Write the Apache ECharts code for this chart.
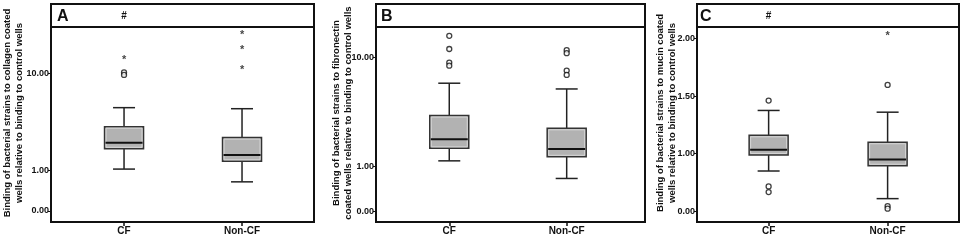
<!DOCTYPE html>
<html>
<head>
<meta charset="utf-8">
<script src="https://cdn.jsdelivr.net/npm/echarts@6/dist/echarts.min.js"></script>
<style>
html, body { margin: 0; padding: 0; background: #fff; }
#chart { width: 964px; height: 241px; }
</style>
</head>
<body>
<div id="chart"></div>
<script>
const groups = ['CF', 'Non-CF'];

// A: collagen (log axis). each box = [low whisker, Q1, median, Q3, high whisker]
const collagenBoxes = [
	[1.03, 1.67, 1.93, 2.83, 4.45],
	[0.76, 1.24, 1.44, 2.18, 4.34]
];
const collagenCircles = [[10.3, 9.7], []];
const collagenStars = [[15.0], [27.2, 19.0, 11.8]];
const collagenTicks = [0.38, 1, 10];
const collagenTickLabels = ['0.00', '1.00', '10.00'];

// B: fibronectin (log axis)
const fibronectinBoxes = [
	[1.13, 1.47, 1.78, 2.93, 5.79],
	[0.78, 1.23, 1.45, 2.24, 5.13]
];
const fibronectinCircles = [[15.7, 11.9, 8.93, 8.38], [11.6, 10.9, 7.55, 6.89]];
const fibronectinStars = [[], []];
const fibronectinTicks = [0.39, 1, 10];
const fibronectinTickLabels = ['0.00', '1.00', '10.00'];

// C: mucin (linear axis)
const mucinBoxes = [
	[0.85, 0.99, 1.035, 1.16, 1.376],
	[0.61, 0.896, 0.951, 1.10, 1.361]
];
const mucinCircles = [[1.462, 0.716, 0.667], [1.598, 0.545, 0.523]];
const mucinStars = [[], [2.049]];
const mucinTicks = [0.5, 1, 1.5, 2];
const mucinTickLabels = ['0.00', '1.00', '1.50', '2.00'];

const FONT = 'Liberation Sans, Arial, sans-serif';
const INK = '#111';
const HEAD_TOP = 4, PLOT_TOP = 27, PLOT_BOTTOM = 222;

const panels = [
	{
		letter: 'A', hash: true, letterX: 57,
		title: 'Binding of bacterial strains to collagen coated\nwells relative to binding to control wells', titleX: 13.5,
		boxes: collagenBoxes, circles: collagenCircles, stars: collagenStars,
		ticks: collagenTicks, tickLabels: collagenTickLabels, log: true,
		left: 51, right: 314, xRange: [0.381, 2.61], yRange: [0.292, 30.4]
	},
	{
		letter: 'B', hash: false, letterX: 381,
		title: 'Binding of bacterial strains to fibronectin\ncoated wells relative to binding to control wells', titleX: 342,
		boxes: fibronectinBoxes, circles: fibronectinCircles, stars: fibronectinStars,
		ticks: fibronectinTicks, tickLabels: fibronectinTickLabels, log: true,
		left: 376, right: 645, xRange: [0.376, 2.667], yRange: [0.312, 18.9]
	},
	{
		letter: 'C', hash: true, letterX: 700,
		title: 'Binding of bacterial strains to mucin coated\nwells relative to binding to control wells', titleX: 666,
		boxes: mucinBoxes, circles: mucinCircles, stars: mucinStars,
		ticks: mucinTicks, tickLabels: mucinTickLabels, log: false,
		left: 697, right: 959, xRange: [0.398, 2.60], yRange: [0.407, 2.101]
	}
];

// per-group value lists -> [groupPosition, value]
function toPoints(lists) {
	const pts = [];
	lists.forEach((vals, i) => vals.forEach(v => pts.push([i + 1, v])));
	return pts;
}

function renderBox(params, api) {
	const x = api.value(0);
	const pt = k => api.coord([x, api.value(k)]);
	const low = pt(1), q1 = pt(2), med = pt(3), q3 = pt(4), high = pt(5);
	const cx = low[0];
	const bw = 39, cw = 22;
	const line = (x1, y1, x2, y2, w, c) => ({
		type: 'line', shape: { x1, y1, x2, y2 },
		style: { stroke: c || '#222', lineWidth: w || 1.5 }
	});
	return {
		type: 'group',
		children: [
			line(cx, high[1], cx, q3[1]),
			line(cx, q1[1], cx, low[1]),
			line(cx - cw / 2, high[1], cx + cw / 2, high[1]),
			line(cx - cw / 2, low[1], cx + cw / 2, low[1]),
			{
				type: 'rect',
				shape: { x: cx - bw / 2, y: q3[1], width: bw, height: q1[1] - q3[1] },
				style: { fill: '#b2b2b2', stroke: '#333', lineWidth: 1.5 }
			},
			{
				type: 'rect',
				shape: { x: cx - bw / 2 + 1.5, y: q3[1] + 1.5, width: bw - 3, height: q1[1] - q3[1] - 3 },
				style: { fill: 'none', stroke: '#d6d6d6', lineWidth: 1 }
			},
			line(cx - bw / 2 + 1, med[1], cx + bw / 2 - 1, med[1], 2, '#111')
		]
	};
}

const option = {
	animation: false,
	backgroundColor: '#fff',
	grid: [], xAxis: [], yAxis: [], series: [], graphic: []
};

panels.forEach((p, i) => {
	option.grid.push({
		left: p.left, top: PLOT_TOP, width: p.right - p.left, height: PLOT_BOTTOM - PLOT_TOP,
		show: true, borderColor: INK, borderWidth: 2
	});
	option.xAxis.push({
		gridIndex: i, type: 'value', min: p.xRange[0], max: p.xRange[1],
		splitLine: { show: false }, axisLine: { show: false },
		axisTick: { show: true, customValues: [1, 2], length: 4, lineStyle: { color: INK, width: 1.5 } },
		axisLabel: {
			customValues: [1, 2], formatter: v => groups[Math.round(v) - 1],
			fontFamily: FONT, fontWeight: 'bold', fontSize: 10, color: INK, margin: 4
		}
	});
	option.yAxis.push({
		gridIndex: i, type: p.log ? 'log' : 'value', logBase: 10,
		min: p.yRange[0], max: p.yRange[1],
		splitLine: { show: false }, axisLine: { show: false },
		axisTick: { show: true, customValues: p.ticks, length: 3, lineStyle: { color: INK, width: 1 } },
		axisLabel: {
			customValues: p.ticks,
			formatter: v => {
				let best = 0;
				p.ticks.forEach((t, k) => { if (Math.abs(t - v) < Math.abs(p.ticks[best] - v)) best = k; });
				return p.tickLabels[best];
			},
			fontFamily: FONT, fontWeight: 'bold', fontSize: 9, color: INK, margin: 2
		}
	});
	option.series.push({
		type: 'custom', xAxisIndex: i, yAxisIndex: i,
		renderItem: renderBox,
		encode: { x: 0, y: [1, 2, 3, 4, 5] },
		data: p.boxes.map((b, k) => [k + 1].concat(b))
	});
	option.series.push({
		type: 'scatter', xAxisIndex: i, yAxisIndex: i,
		symbol: 'circle', symbolSize: 5,
		itemStyle: { color: '#fff', borderColor: INK, borderWidth: 1.3 },
		data: toPoints(p.circles)
	});
	option.series.push({
		type: 'scatter', xAxisIndex: i, yAxisIndex: i,
		symbol: 'circle', symbolSize: 1,
		itemStyle: { color: 'rgba(0,0,0,0)' },
		label: {
			show: true, formatter: '*', position: 'inside', offset: [0, 3],
			fontFamily: FONT, fontWeight: 'bold', fontSize: 11, color: INK
		},
		data: toPoints(p.stars)
	});

	// header strip with panel letter
	option.graphic.push({
		type: 'rect',
		shape: { x: p.left, y: HEAD_TOP, width: p.right - p.left, height: PLOT_TOP - HEAD_TOP },
		style: { fill: 'none', stroke: INK, lineWidth: 2 }
	});
	option.graphic.push({
		type: 'text', x: p.letterX, y: (HEAD_TOP + PLOT_TOP) / 2 + 1,
		style: {
			text: p.letter, fontFamily: FONT, fontWeight: 'bold', fontSize: 16,
			fill: INK, align: 'left', verticalAlign: 'middle'
		}
	});
	if (p.hash) {
		const cfX = p.left + (1 - p.xRange[0]) / (p.xRange[1] - p.xRange[0]) * (p.right - p.left);
		option.graphic.push({
			type: 'text', x: cfX, y: (HEAD_TOP + PLOT_TOP) / 2 + 1,
			style: {
				text: '#', fontFamily: FONT, fontWeight: 'bold', fontSize: 10,
				fill: INK, align: 'center', verticalAlign: 'middle'
			}
		});
	}
	// y axis title, centred on the whole frame
	option.graphic.push({
		type: 'text', x: p.titleX, y: 113, rotation: Math.PI / 2,
		style: {
			text: p.title, fontFamily: FONT, fontWeight: 'bold', fontSize: 9.5, lineHeight: 12,
			fill: INK, align: 'center', verticalAlign: 'middle'
		}
	});
});

const chart = echarts.init(document.getElementById('chart'));
chart.setOption(option);
</script>
</body>
</html>
